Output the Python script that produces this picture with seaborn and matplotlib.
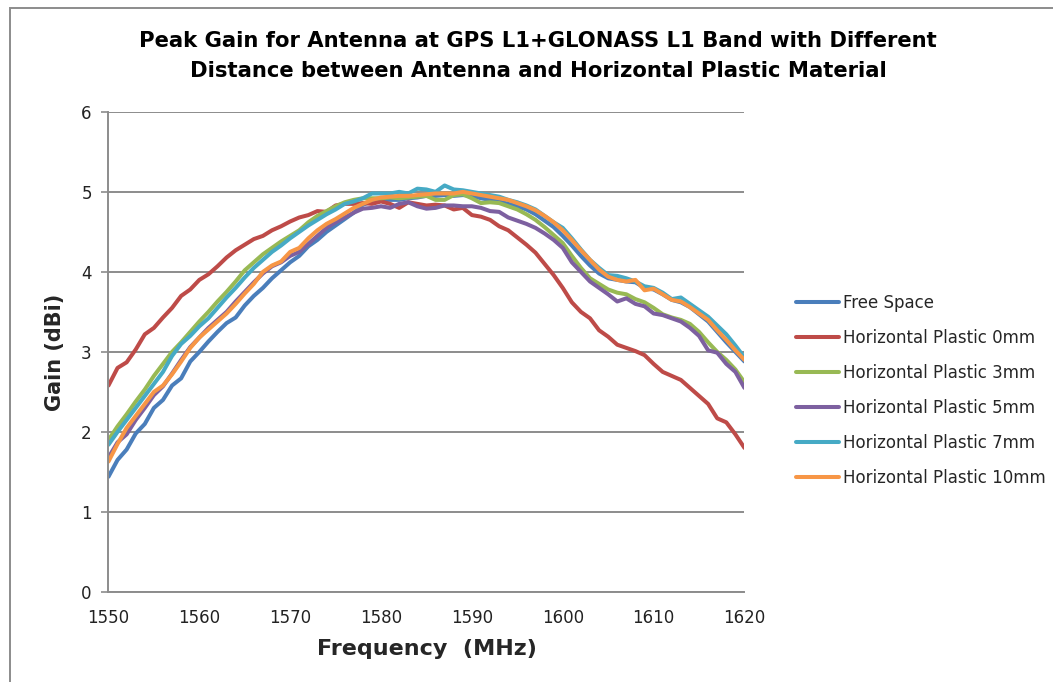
import pandas as pd
import matplotlib.pyplot as plt
import seaborn as sns
from matplotlib.patches import Rectangle

sns.set_theme(style="white")
plt.rcParams['font.family'] = ['DejaVu Sans']

freq = list(range(1550, 1621))

free_space = [1.44, 1.65, 1.78, 1.98, 2.10, 2.30, 2.40, 2.58, 2.67, 2.88, 3.00, 3.13, 3.25, 3.36, 3.43, 3.58,
              3.70, 3.80, 3.92, 4.02, 4.12, 4.20, 4.32, 4.40, 4.50, 4.58, 4.66, 4.74, 4.84, 4.88, 4.90, 4.90,
              4.90, 4.92, 4.93, 4.95, 4.95, 4.96, 4.95, 4.96, 4.95, 4.92, 4.90, 4.88, 4.85, 4.82, 4.78, 4.72,
              4.64, 4.56, 4.45, 4.33, 4.20, 4.08, 3.98, 3.92, 3.90, 3.88, 3.87, 3.80, 3.78, 3.72, 3.65, 3.62,
              3.56, 3.47, 3.38, 3.25, 3.12, 3.00, 2.88]
plastic_0mm = [2.58, 2.80, 2.87, 3.03, 3.22, 3.30, 3.43, 3.55, 3.70, 3.78, 3.90, 3.97, 4.07, 4.18, 4.27, 4.34,
               4.41, 4.45, 4.52, 4.57, 4.63, 4.68, 4.71, 4.76, 4.75, 4.83, 4.85, 4.85, 4.86, 4.85, 4.88, 4.85,
               4.80, 4.87, 4.85, 4.83, 4.84, 4.83, 4.78, 4.80, 4.71, 4.69, 4.65, 4.57, 4.52, 4.43, 4.34, 4.24,
               4.10, 3.96, 3.80, 3.62, 3.50, 3.42, 3.27, 3.19, 3.09, 3.05, 3.01, 2.96, 2.85, 2.75, 2.70, 2.65,
               2.55, 2.45, 2.35, 2.17, 2.12, 1.97, 1.80]
plastic_3mm = [1.90, 2.07, 2.22, 2.38, 2.53, 2.70, 2.85, 3.00, 3.12, 3.25, 3.38, 3.50, 3.63, 3.75, 3.88, 4.02,
               4.12, 4.22, 4.30, 4.38, 4.45, 4.52, 4.62, 4.70, 4.76, 4.82, 4.87, 4.90, 4.92, 4.92, 4.92, 4.93,
               4.92, 4.93, 4.94, 4.95, 4.90, 4.90, 4.96, 4.97, 4.92, 4.86, 4.87, 4.86, 4.82, 4.78, 4.72, 4.65,
               4.56, 4.46, 4.36, 4.20, 4.05, 3.92, 3.85, 3.78, 3.74, 3.72, 3.66, 3.62, 3.55, 3.47, 3.43, 3.40,
               3.35, 3.25, 3.12, 3.00, 2.90, 2.78, 2.62]
plastic_5mm = [1.68, 1.87, 1.97, 2.15, 2.30, 2.46, 2.57, 2.73, 2.90, 3.06, 3.18, 3.30, 3.40, 3.50, 3.63, 3.75,
               3.87, 3.98, 4.07, 4.12, 4.20, 4.25, 4.35, 4.45, 4.55, 4.62, 4.68, 4.74, 4.79, 4.80, 4.82, 4.80,
               4.85, 4.87, 4.82, 4.79, 4.80, 4.83, 4.83, 4.82, 4.82, 4.80, 4.76, 4.75, 4.68, 4.64, 4.60, 4.55,
               4.48, 4.40, 4.30, 4.12, 4.00, 3.88, 3.80, 3.72, 3.63, 3.67, 3.60, 3.57, 3.48, 3.46, 3.42, 3.38,
               3.30, 3.20, 3.02, 2.99, 2.85, 2.75, 2.55]
plastic_7mm = [1.84, 2.00, 2.15, 2.30, 2.45, 2.60, 2.75, 2.95, 3.10, 3.20, 3.32, 3.42, 3.55, 3.68, 3.80, 3.93,
               4.05, 4.15, 4.25, 4.33, 4.42, 4.50, 4.58, 4.65, 4.72, 4.78, 4.85, 4.88, 4.92, 4.98, 4.98, 4.98,
               5.00, 4.98, 5.04, 5.03, 5.00, 5.08, 5.03, 5.02, 5.00, 4.98, 4.96, 4.94, 4.90, 4.87, 4.83, 4.78,
               4.70, 4.62, 4.55, 4.42, 4.28, 4.15, 4.05, 3.96, 3.95, 3.92, 3.88, 3.82, 3.80, 3.74, 3.66, 3.68,
               3.60, 3.52, 3.44, 3.33, 3.22, 3.08, 2.93]
plastic_10mm = [1.63, 1.85, 2.05, 2.20, 2.35, 2.50, 2.58, 2.72, 2.88, 3.05, 3.18, 3.28, 3.38, 3.48, 3.60, 3.73,
                3.85, 4.00, 4.08, 4.13, 4.25, 4.30, 4.42, 4.52, 4.60, 4.66, 4.73, 4.80, 4.85, 4.90, 4.93, 4.94,
                4.95, 4.95, 4.96, 4.97, 4.98, 4.98, 4.98, 5.00, 4.98, 4.96, 4.94, 4.92, 4.90, 4.86, 4.82, 4.77,
                4.70, 4.62, 4.52, 4.40, 4.27, 4.15, 4.03, 3.94, 3.90, 3.88, 3.90, 3.77, 3.79, 3.72, 3.65, 3.63,
                3.56, 3.48, 3.40, 3.27, 3.15, 3.02, 2.90]

series_names = ['Free Space', 'Horizontal Plastic 0mm', 'Horizontal Plastic 3mm',
                'Horizontal Plastic 5mm', 'Horizontal Plastic 7mm', 'Horizontal Plastic 10mm']
series_values = [free_space, plastic_0mm, plastic_3mm, plastic_5mm, plastic_7mm, plastic_10mm]
colors = ['#4A7EBB', '#BE4B48', '#98B954', '#7D60A0', '#46AAC5', '#F79646']

df = pd.concat([pd.DataFrame({'Frequency': freq, 'Gain': vals, 'Serie': nome})
                for nome, vals in zip(series_names, series_values)], ignore_index=True)

fig = plt.figure(figsize=(10.53, 6.82), dpi=100)
ax = fig.add_axes([0.103, 0.132, 0.604, 0.704])

sns.lineplot(data=df, x='Frequency', y='Gain', hue='Serie', hue_order=series_names,
             palette=colors, linewidth=2.9, ax=ax)

ax.set_xlim(1550, 1620)
ax.set_ylim(0, 6)
ax.set_xticks(range(1550, 1621, 10))
ax.set_yticks(range(0, 7))
ax.yaxis.grid(True, color='#8c8c8c', linewidth=1.4)
ax.xaxis.grid(False)
for lado in ['top', 'right']:
    ax.spines[lado].set_visible(False)
for lado in ['left', 'bottom']:
    ax.spines[lado].set_color('#8c8c8c')
    ax.spines[lado].set_linewidth(1.4)
ax.tick_params(axis='y', labelsize=12, colors='#8c8c8c', labelcolor='#222222',
               length=5, width=1.2, direction='out', left=True, pad=7)
ax.tick_params(axis='x', labelsize=12, labelcolor='#222222', length=0, pad=12)

ax.set_xlabel('Frequency  (MHz)', fontsize=16, fontweight='bold', labelpad=9)
ax.set_ylabel('Gain (dBi)', fontsize=15, fontweight='bold', labelpad=12)

fig.text(0.511, 0.918, 'Peak Gain for Antenna at GPS L1+GLONASS L1 Band with Different\n'
         'Distance between Antenna and Horizontal Plastic Material',
         ha='center', va='center', fontsize=15.2, fontweight='bold', linespacing=1.6, color='black')

ax.legend(title=None, frameon=False, loc='center left', bbox_to_anchor=(1.057, 0.42),
          fontsize=12, handlelength=2.6, labelspacing=1.02, handletextpad=0.25)

fig.patches.append(Rectangle((0.0095, -0.05), 1.2, 1.038, transform=fig.transFigure,
                             fill=False, edgecolor='#8c8c8c', linewidth=1.4))

fig.savefig('out.png', dpi=100)
